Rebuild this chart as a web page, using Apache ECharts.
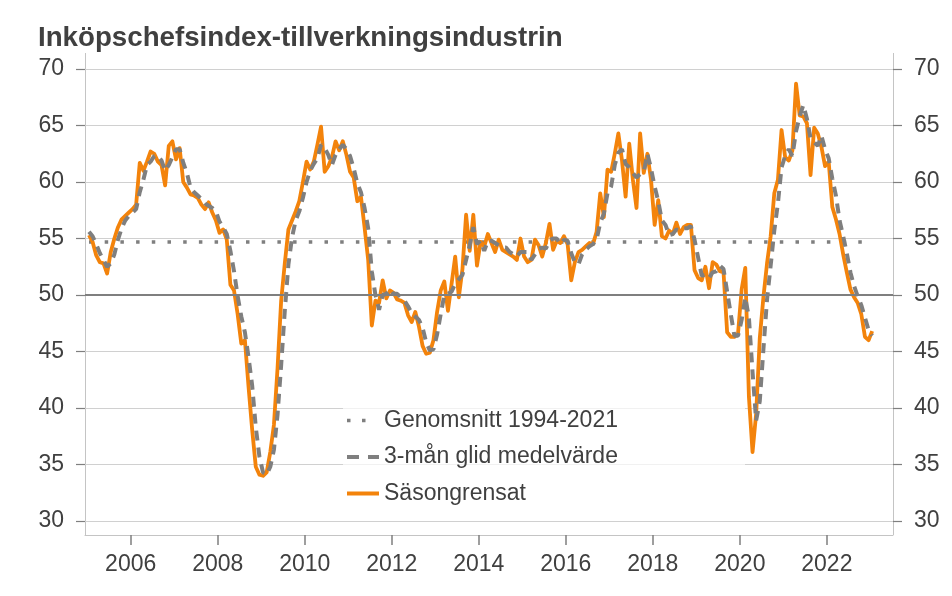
<!DOCTYPE html>
<html><head><meta charset="utf-8">
<script src="https://cdn.jsdelivr.net/npm/echarts@6/dist/echarts.min.js"></script>
<style>html,body{margin:0;padding:0;background:#fff}#c{width:952px;height:596px}</style>
</head><body><div id="c"></div>
<script>
const chartTitle = 'Inköpschefsindex-tillverkningsindustrin';
const seriesNames = ['Genomsnitt 1994-2021', '3-mån glid medelvärde', 'Säsongrensat'];
const startYear = 2005; // first value = January 2005, monthly
const saValues = [
 55.3,54.7,53.5,52.9,52.8,51.9,53.8,55.0,56.0,56.7,57.0,57.3,
 57.6,58.0,61.7,61.0,61.8,62.7,62.5,61.8,61.5,59.7,63.2,63.6,
 62.0,63.0,60.0,59.5,58.9,58.8,58.6,58.0,57.6,58.2,57.3,56.6,
 55.5,55.8,54.9,50.9,50.4,48.3,45.7,46.0,41.9,38.1,34.8,34.1,
 34.0,34.3,36.1,38.5,43.5,49.5,52.8,55.8,56.6,57.4,58.3,60.0,
 61.8,61.1,61.8,63.3,64.9,60.9,61.4,62.2,63.6,62.8,63.6,62.4,
 60.9,60.4,58.3,58.7,56.0,53.1,47.3,49.5,49.3,51.3,49.7,50.4,
 50.2,49.6,49.5,49.3,48.2,47.6,48.5,47.2,45.5,44.8,44.9,46.0,
 48.5,50.4,51.2,48.6,51.0,53.4,49.8,52.3,57.1,53.9,57.1,52.6,
 54.7,54.3,55.4,54.6,53.8,54.9,54.0,53.8,53.6,53.4,53.1,55.0,
 53.4,52.9,53.1,54.9,54.4,53.4,54.6,56.3,54.0,54.8,54.6,55.2,
 54.5,51.3,52.9,53.8,54.0,54.3,54.6,54.5,55.6,59.0,56.9,61.1,
 60.9,62.5,64.3,61.9,58.7,63.4,60.2,57.7,64.3,60.8,62.5,60.2,
 56.2,58.4,55.2,55.0,55.7,55.4,56.4,55.4,56.0,56.2,56.2,52.2,
 51.5,51.3,52.5,50.6,52.9,52.7,52.1,52.0,46.7,46.3,46.3,46.6,
 50.5,52.4,41.0,36.1,39.5,46.2,49.8,52.8,55.2,59.0,60.2,64.6,
 62.2,61.9,62.8,68.7,65.9,65.8,65.2,60.6,64.8,64.3,63.1,61.4,
 61.8,57.8,56.7,55.4,53.6,52.0,50.5,49.8,49.3,48.3,46.3,46.0,
 46.8
];
const maValues = [
 55.6,55.2,54.5,53.7,53.1,52.5,52.8,53.6,54.9,55.9,56.6,57.0,
 57.3,57.6,59.1,60.2,61.5,61.8,62.3,62.3,61.9,61.0,61.5,62.2,
 62.9,62.9,61.7,60.8,59.5,59.1,58.8,58.5,58.1,57.9,57.7,57.4,
 56.5,56.0,55.4,53.9,52.1,49.9,48.1,46.7,44.5,42.0,38.3,35.7,
 34.3,34.1,34.8,36.3,39.4,43.8,48.6,52.7,55.1,56.6,57.4,58.6,
 60.0,61.0,61.6,62.1,63.3,63.0,62.4,61.5,62.4,62.9,63.3,62.9,
 62.3,61.2,59.9,59.1,57.7,55.9,52.1,50.0,48.7,50.0,50.1,50.5,
 50.1,50.1,49.8,49.5,49.0,48.4,48.1,47.8,47.1,45.8,45.1,45.2,
 46.5,48.3,50.0,50.1,50.3,51.0,51.4,51.8,53.1,54.4,56.0,54.5,
 54.8,53.9,54.8,54.8,54.6,54.4,54.2,54.2,53.8,53.6,53.4,53.8,
 53.8,53.8,53.1,53.6,54.1,54.2,54.1,54.8,55.0,55.0,54.5,54.9,
 54.8,53.7,52.9,52.7,53.6,54.0,54.3,54.5,54.9,56.4,57.2,59.0,
 59.6,61.5,62.6,62.9,61.6,61.3,60.8,60.4,60.7,60.9,62.5,61.2,
 59.6,58.3,56.6,56.2,55.3,55.4,55.8,55.7,55.9,55.9,56.1,54.9,
 53.3,51.7,51.8,51.5,52.0,52.1,52.6,52.3,50.3,48.3,46.4,46.4,
 47.8,49.8,48.0,43.2,38.9,40.6,45.2,49.6,52.6,55.7,58.1,61.3,
 62.3,62.9,62.3,64.5,65.8,66.8,65.6,63.9,63.5,63.2,64.1,62.9,
 62.1,60.3,58.8,56.6,55.2,53.7,52.0,50.8,49.9,49.1,48.0,46.9,
 46.4
];
const averageValue = 54.7;
const referenceLine = 50;
const yearTicks = [2006, 2008, 2010, 2012, 2014, 2016, 2018, 2020, 2022];
const yMin = 30, yMax = 70, yStep = 5;

const monthX = i => startYear + (i + 0.5) / 12;
const saData = saValues.map((v, i) => [monthX(i), v]);
const maData = maValues.map((v, i) => [monthX(i), v]);
const avgData = [[monthX(0), averageValue], [monthX(saValues.length - 1), averageValue]];

const FONT = '"Liberation Sans", Arial, sans-serif';
const TXT = '#404040';
const ORANGE = '#F3830B';
const GRAY = '#7f7f7f';
const FRAME = '#c4c4c4';

const yAxisCommon = {
  type: 'value', min: yMin, max: yMax, interval: yStep,
  axisLine: { show: false },
  axisTick: { show: true, length: 9, lineStyle: { color: GRAY, width: 1.2 } },
  axisLabel: { fontSize: 23, color: TXT, fontFamily: FONT, margin: 21 }
};

const chart = echarts.init(document.getElementById('c'), null, { renderer: 'canvas' });
chart.setOption({
  animation: false,
  backgroundColor: '#fff',
  title: {
    text: chartTitle, left: 33, top: 19,
    textStyle: { fontSize: 27.7, fontWeight: 'bold', color: TXT, fontFamily: FONT }
  },
  grid: { left: 85, right: 59, top: 69, bottom: 75, containLabel: false },
  xAxis: {
    type: 'value', min: 2004.95, max: 2023.52, offset: 14,
    axisLine: { show: true, lineStyle: { color: FRAME, width: 1 } },
    axisTick: { show: true, length: 10, customValues: yearTicks, lineStyle: { color: GRAY, width: 1.5 } },
    axisLabel: { customValues: yearTicks, fontSize: 23, color: TXT, fontFamily: FONT, margin: 18,
      formatter: v => String(Math.round(v)) },
    splitLine: { show: false }
  },
  yAxis: [
    Object.assign({}, yAxisCommon, { position: 'left',
      splitLine: { show: true, lineStyle: { color: '#d0d0d0', width: 1 } } }),
    Object.assign({}, yAxisCommon, { position: 'right', splitLine: { show: false } })
  ],
  legend: {
    orient: 'vertical', left: 343, top: 401,
    padding: [8, 127, 8, 2],
    itemWidth: 32, itemHeight: 14, itemGap: 13.5,
    backgroundColor: 'rgba(255,255,255,0.7)',
    selectedMode: false,
    itemStyle: { opacity: 0, borderWidth: 0 },
    textStyle: { fontSize: 23, color: TXT, fontFamily: FONT },
    data: [
      { name: seriesNames[0], itemStyle: { opacity: 0, borderWidth: 0 }, lineStyle: { width: 3.5, type: [3.5, 11.5, 3.5, 60], cap: 'butt' } },
      { name: seriesNames[1], itemStyle: { opacity: 0, borderWidth: 0 }, lineStyle: { width: 4, type: [12, 9], cap: 'butt' } },
      { name: seriesNames[2], itemStyle: { opacity: 0, borderWidth: 0 }, lineStyle: { width: 4, type: 'solid' } }
    ]
  },
  graphic: [
    { type: 'line', silent: true, shape: { x1: 85.5, y1: 53, x2: 85.5, y2: 535 }, style: { stroke: FRAME, lineWidth: 1 } },
    { type: 'line', silent: true, shape: { x1: 893.5, y1: 53, x2: 893.5, y2: 535 }, style: { stroke: FRAME, lineWidth: 1 } }
  ],
  series: [
    {
      name: seriesNames[0], type: 'line', data: avgData, symbol: 'none', z: 2,
      lineStyle: { color: GRAY, width: 3.5, type: [3.5, 12.2], cap: 'butt' },
      itemStyle: { color: GRAY },
      markLine: {
        silent: true, symbol: 'none', label: { show: false }, animation: false,
        lineStyle: { color: GRAY, width: 2, type: 'solid' },
        data: [{ yAxis: referenceLine }]
      }
    },
    {
      name: seriesNames[2], type: 'line', data: saData, symbol: 'none', z: 3,
      lineStyle: { color: ORANGE, width: 3.8, join: 'round' },
      itemStyle: { color: ORANGE }
    },
    {
      name: seriesNames[1], type: 'line', data: maData, symbol: 'none', z: 4,
      lineStyle: { color: GRAY, width: 4, type: [10, 7], cap: 'butt' },
      itemStyle: { color: GRAY }
    }
  ]
});
</script>
</body></html>
